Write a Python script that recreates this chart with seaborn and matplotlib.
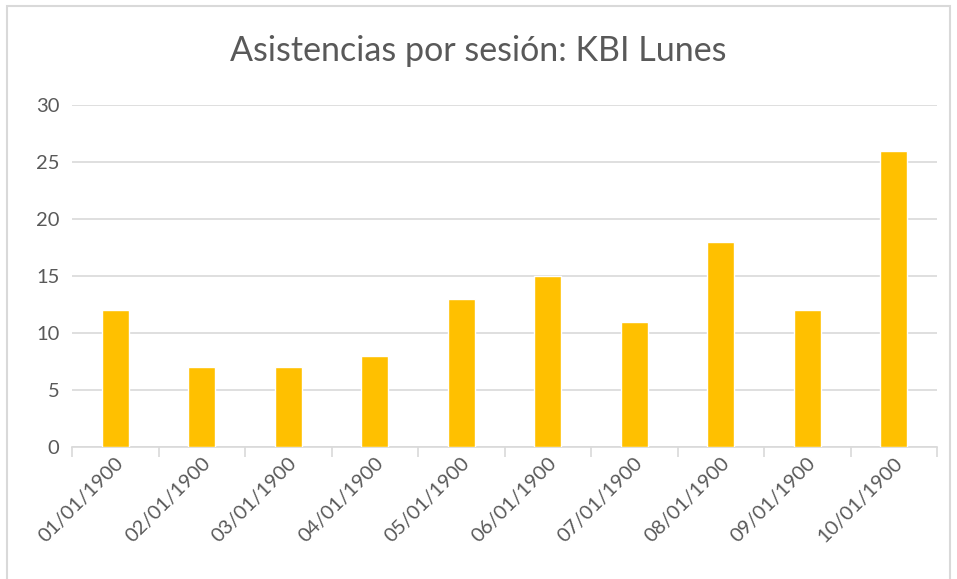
import numpy as np
import pandas as pd
import seaborn as sns
import matplotlib.pyplot as plt
from matplotlib.patches import Rectangle

fechas = ['01/01/1900', '02/01/1900', '03/01/1900', '04/01/1900', '05/01/1900',
          '06/01/1900', '07/01/1900', '08/01/1900', '09/01/1900', '10/01/1900']
asistencias = [12, 7, 7, 8, 13, 15, 11, 18, 12, 26]
y_ticks = [0, 5, 10, 15, 20, 25, 30]

df = pd.DataFrame({'fecha': fechas, 'asistencias': asistencias})

sns.set_style('white')
plt.rcParams['font.family'] = ['Lato', 'DejaVu Sans']

grid_color = '#D9D9D9'
text_color = '#595959'

fig = plt.figure(figsize=(9.57, 5.79), dpi=100)
ax = fig.add_axes([72 / 957, 1 - 447 / 579, (937 - 72) / 957, (447 - 105) / 579])

sns.barplot(data=df, x='fecha', y='asistencias', color='#FFC000',
            width=0.31, saturation=1, ax=ax, zorder=3)

ax.set_ylim(0, 30)
ax.set_yticks(y_ticks)
ax.set_xlim(-0.5, len(fechas) - 0.5)
ax.yaxis.grid(True, color=grid_color, linewidth=1.2, zorder=0)
ax.set_xlabel('')
ax.set_ylabel('')

for s in ['top', 'right', 'left']:
    ax.spines[s].set_visible(False)
ax.spines['bottom'].set_color(grid_color)
ax.spines['bottom'].set_linewidth(1.2)

# tick marks sit between the categories, labels under the category centres
ax.set_xticks(np.arange(len(fechas)))
ax.set_xticklabels(fechas, rotation=45, ha='right', va='top',
                   rotation_mode='anchor', fontsize=14.5, color=text_color)
ax.tick_params(axis='x', which='major', length=0, pad=5)
ax.set_xticks(np.arange(-0.5, len(fechas), 1), minor=True)
ax.tick_params(axis='x', which='minor', length=7, width=1.2, color=grid_color,
               direction='out', bottom=True)
ax.tick_params(axis='y', length=0, labelsize=14.5, labelcolor=text_color, pad=9)

fig.text(0.5, 1 - 51 / 579, 'Asistencias por sesión: KBI Lunes',
         ha='center', va='center', fontsize=24.5, color=text_color)

# chart frame
fig.patches.append(Rectangle((7 / 957, -0.05), (950 - 7) / 957, 1 - 6 / 579 + 0.05,
                             transform=fig.transFigure, fill=False,
                             edgecolor=grid_color, linewidth=1.5))

fig.savefig('out.png', dpi=100)
